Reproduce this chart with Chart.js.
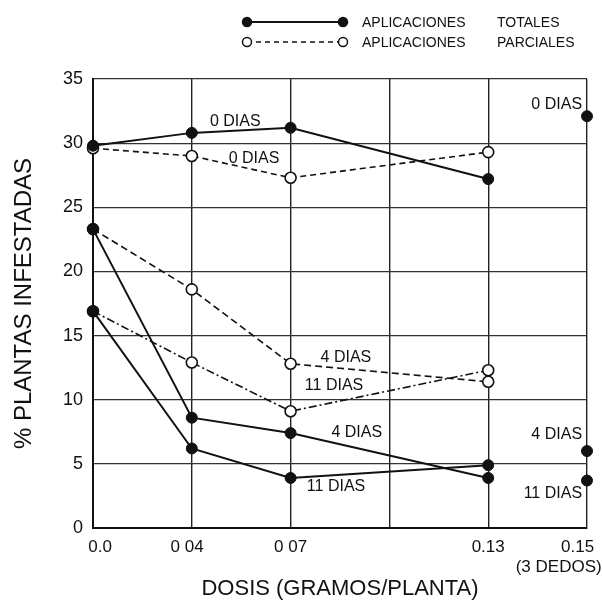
<!DOCTYPE html>
<html><head><meta charset="utf-8">
<script src="https://cdn.jsdelivr.net/npm/chart.js@4"></script>
<style>html,body{margin:0;padding:0;background:#fff}canvas{display:block}</style>
</head><body>
<canvas id="c" width="602" height="602"></canvas>
<script>
// ---- data ----
const categories = ["   0.0", "0 04  ", "0 07", "", "0.13", ["0.15    ", "(3 DEDOS)            "]];
const yTicks = [0, 5, 10, 15, 20, 25, 30, 35];
const totales0  = [29.8, 30.8, 31.2, null, 27.2, 32.1];
const totales4  = [23.3, 8.6, 7.4, null, 3.9, 6.0];
const totales11 = [16.9, 6.2, 3.9, null, 4.9, 3.7];
const parciales0  = [29.6, 29.0, 27.3, null, 29.3, null];
const parciales4  = [23.3, 18.6, 12.8, null, 11.4, null];
const parciales11 = [16.9, 12.9, 9.1, null, 12.3, null];
const seriesNames = ["APLICACIONES", "TOTALES", "PARCIALES"];
const curveLabels = [
  {text: "0 DIAS",  x: 1.44, y: 31.7, align: "center"},
  {text: "0 DIAS",  x: 1.63, y: 28.8, align: "center"},
  {text: "4 DIAS",  x: 2.56, y: 13.3, align: "center"},
  {text: "11 DIAS", x: 2.44, y: 11.1, align: "center"},
  {text: "4 DIAS",  x: 2.67, y: 7.4,  align: "center"},
  {text: "11 DIAS", x: 2.46, y: 3.2,  align: "center"},
  {text: "0 DIAS",  x: 4.95, y: 33.0, align: "right"},
  {text: "4 DIAS",  x: 4.95, y: 7.25, align: "right"},
  {text: "11 DIAS", x: 4.95, y: 2.7,  align: "right"}
];

const INK = '#111';
const FONT = '"Liberation Sans", Arial, sans-serif';
const hideLast = { borderColor: ctx => ctx.p1DataIndex === 5 ? 'rgba(0,0,0,0)' : undefined };

function tot(label, data) {
  return { label, data, borderColor: INK, borderWidth: 2, pointRadius: 5.5, pointBackgroundColor: INK,
    pointBorderColor: INK, pointBorderWidth: 1, spanGaps: true, clip: false, tension: 0, segment: hideLast };
}
function par(label, data, dash) {
  return { label, data, borderColor: INK, borderWidth: 1.6, borderDash: dash, pointRadius: 5.5,
    pointBackgroundColor: '#fff', pointBorderColor: INK, pointBorderWidth: 1.6, spanGaps: true, clip: false, tension: 0 };
}

const annot = {
  id: 'annot',
  afterDraw(chart) {
    const ctx = chart.ctx, xs = chart.scales.x, ys = chart.scales.y;
    ctx.save();
    ctx.fillStyle = INK;
    ctx.font = '16px ' + FONT;
    ctx.textBaseline = 'middle';
    curveLabels.forEach(l => {
      ctx.textAlign = l.align;
      ctx.fillText(l.text, xs.getPixelForValue(l.x), ys.getPixelForValue(l.y));
    });
    // legend
    const rows = [{y: 22, name: seriesNames[1], dash: []}, {y: 42, name: seriesNames[2], dash: [5, 4]}];
    rows.forEach((r, i) => {
      ctx.strokeStyle = INK;
      ctx.lineWidth = i === 0 ? 2 : 1.5;
      ctx.setLineDash(r.dash);
      ctx.beginPath(); ctx.moveTo(247, r.y); ctx.lineTo(343, r.y); ctx.stroke();
      ctx.setLineDash([]);
      [247, 343].forEach(px => {
        ctx.beginPath(); ctx.arc(px, r.y, 4.5, 0, Math.PI * 2);
        ctx.fillStyle = i === 0 ? INK : '#fff'; ctx.fill();
        ctx.lineWidth = 1.5; ctx.stroke();
      });
      ctx.fillStyle = INK;
      ctx.font = '14px ' + FONT;
      ctx.textAlign = 'left';
      ctx.fillText(seriesNames[0], 362, r.y + 1);
      ctx.fillText(r.name, 497, r.y + 1);
    });
    ctx.restore();
  }
};

new Chart(document.getElementById('c'), {
  type: 'line',
  data: {
    labels: categories,
    datasets: [
      tot('Totales 0 dias', totales0), tot('Totales 4 dias', totales4), tot('Totales 11 dias', totales11),
      par('Parciales 0 dias', parciales0, [6, 4]), par('Parciales 4 dias', parciales4, [7, 4]),
      par('Parciales 11 dias', parciales11, [8, 3, 2, 3])
    ]
  },
  options: {
    responsive: false, animation: false, devicePixelRatio: 1,
    layout: { padding: { top: 79, right: 15, bottom: 0, left: 0 } },
    plugins: { legend: { display: false }, tooltip: { enabled: false } },
    scales: {
      x: {
        type: 'category', offset: false,
        grid: { color: '#222', lineWidth: 1.4, drawTicks: false },
        border: { color: INK, width: 2 },
        ticks: { color: INK, font: { size: 17, family: FONT }, padding: 9, maxRotation: 0, autoSkip: false },
        title: { display: true, text: 'DOSIS (GRAMOS/PLANTA)', color: INK, font: { size: 22, family: FONT }, padding: { top: 0, bottom: 0 } },
        afterFit(s) { s.height = 74; s.paddingLeft = 0; s.paddingRight = 0; }
      },
      y: {
        min: 0, max: 35,
        afterBuildTicks(s) { s.ticks = yTicks.map(v => ({ value: v })); },
        grid: { color: '#333', lineWidth: 1.2, drawTicks: false },
        border: { color: INK, width: 2 },
        ticks: { color: INK, font: { size: 18, family: FONT }, padding: 10 },
        title: { display: true, text: '% PLANTAS INFESTADAS', color: INK, font: { size: 24, family: FONT }, padding: { top: 10, bottom: 0 } },
        afterFit(s) { s.width = 93; s.paddingTop = 0; s.paddingBottom = 0; }
      }
    }
  },
  plugins: [annot]
});
</script>
</body></html>
